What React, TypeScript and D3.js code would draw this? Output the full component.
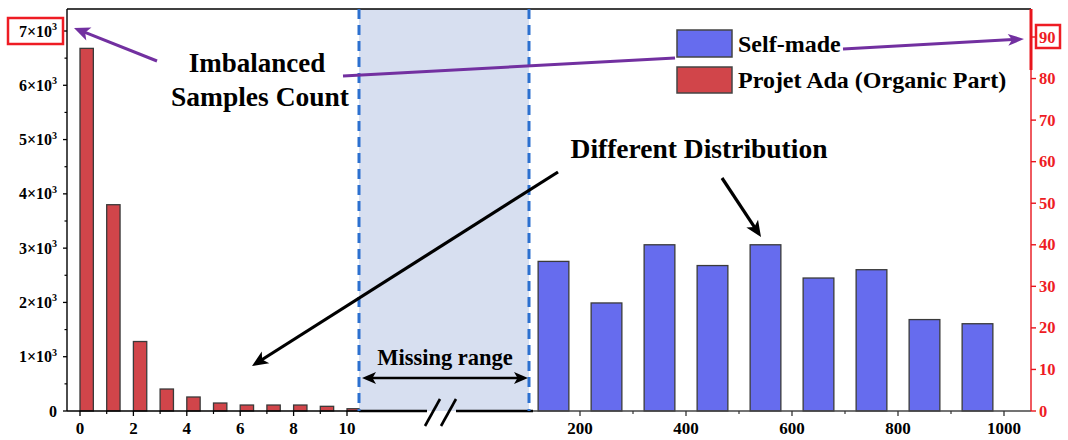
import React from "react";
import * as d3 from "d3";

// ---- data ----
const adaBins = [0, 1, 2, 3, 4, 5, 6, 7, 8, 9, 10];
const adaCounts = [6680, 3800, 1280, 405, 258, 147, 110, 110, 110, 86, 42];
const selfBins = [150, 250, 350, 450, 550, 650, 750, 850, 950];
const selfCounts = [36, 26, 40, 35, 40, 32, 34, 22, 21];
const leftYTicks = [0, 1000, 2000, 3000, 4000, 5000, 6000, 7000];
const leftYMinor = [500, 1500, 2500, 3500, 4500, 5500, 6500];
const leftXTicks = [0, 2, 4, 6, 8, 10];
const leftXMinor = [1, 3, 5, 7, 9];
const rightXTicks = [200, 400, 600, 800, 1000];
const rightXMinor = [300, 500, 700, 900];
const rightYTicks = [0, 10, 20, 30, 40, 50, 60, 70, 80, 90];
const legendLabels = ["Self-made", "Projet Ada (Organic Part)"];

const W = 1068, H = 440;
const TOP = 9, BOTTOM = 411, LEFT = 67, RIGHT = 1031;
const GAP_L = 359, GAP_R = 529;
const FONT = "'Liberation Serif', 'Times New Roman', serif";
const RED = "#d1454a", BLUE = "#666cee", PURPLE = "#7230a0";

const xL = d3.scaleLinear().domain([0, 10]).range([80, 347]);
const xR = d3.scaleLinear().domain([200, 1000]).range([580, 1004]);
const yL = d3.scaleLinear().domain([0, 7000]).range([BOTTOM, 31]);
const yR = d3.scaleLinear().domain([0, 90]).range([BOTTOM, 37]);

function Arrow({ x1, y1, x2, y2, color, w = 3, head = 14, hw = 6 }: any) {
  const a = Math.atan2(y2 - y1, x2 - x1);
  const bx = x2 - head * Math.cos(a), by = y2 - head * Math.sin(a);
  const px = -Math.sin(a) * hw, py = Math.cos(a) * hw;
  return (
    <g>
      <line x1={x1} y1={y1} x2={bx + head * 0.3 * Math.cos(a)} y2={by + head * 0.3 * Math.sin(a)} stroke={color} strokeWidth={w} />
      <path d={`M${x2},${y2}L${bx + px},${by + py}L${bx + (x2 - bx) * 0.25},${by + (y2 - by) * 0.25}L${bx - px},${by - py}Z`} fill={color} />
    </g>
  );
}

export default function App() {
  const wL = xL(0.5) - xL(0);
  const wR = xR(58) - xR(0);
  return (
    <svg width={W} height={H} style={{ position: "absolute", left: 0, top: 0, background: "#fff" }} fontFamily={FONT} fontWeight="bold">
      {/* shaded missing range */}
      <rect x={GAP_L} y={TOP} width={GAP_R - GAP_L} height={BOTTOM - TOP} fill="#d7dff0" />

      {/* left bars */}
      {adaBins.map((b, i) => (
        <rect key={"a" + i} x={xL(b)} y={yL(adaCounts[i])} width={Math.min(wL, GAP_L - xL(b))} height={BOTTOM - yL(adaCounts[i])}
          fill={RED} stroke="#3a3a3a" strokeWidth={1.3} />
      ))}
      {/* right bars */}
      {selfBins.map((b, i) => (
        <rect key={"s" + i} x={xR(b) - wR / 2} y={yR(selfCounts[i])} width={wR} height={BOTTOM - yR(selfCounts[i])}
          fill={BLUE} stroke="#3a3a3a" strokeWidth={1.3} />
      ))}

      {/* frame */}
      <line x1={LEFT} y1={TOP} x2={RIGHT} y2={TOP} stroke="#000" strokeWidth={1.6} />
      <line x1={LEFT} y1={TOP} x2={LEFT} y2={BOTTOM} stroke="#000" strokeWidth={1.4} />
      <line x1={LEFT} y1={BOTTOM} x2={GAP_L} y2={BOTTOM} stroke="#000" strokeWidth={1.4} />
      <line x1={GAP_L} y1={BOTTOM} x2={427} y2={BOTTOM} stroke="#000" strokeWidth={2.4} />
      <line x1={456} y1={BOTTOM} x2={533} y2={BOTTOM} stroke="#000" strokeWidth={2.4} />
      <line x1={533} y1={BOTTOM} x2={RIGHT} y2={BOTTOM} stroke="#444" strokeWidth={1.4} />
      <line x1={425} y1={426} x2={440} y2={399} stroke="#000" strokeWidth={2.6} />
      <line x1={441} y1={426} x2={456} y2={399} stroke="#000" strokeWidth={2.6} />

      {/* dashed boundaries */}
      <line x1={GAP_L} y1={TOP} x2={GAP_L} y2={BOTTOM} stroke="#2c70cf" strokeWidth={3} strokeDasharray="10 6" />
      <line x1={GAP_R} y1={TOP} x2={GAP_R} y2={BOTTOM} stroke="#2c70cf" strokeWidth={3} strokeDasharray="10 6" />

      {/* left y axis */}
      {leftYTicks.map((t) => (
        <g key={"ly" + t}>
          <line x1={LEFT - 4} x2={LEFT} y1={yL(t)} y2={yL(t)} stroke="#000" strokeWidth={1.3} />
          <text x={57} y={yL(t) + 5.5} textAnchor="end" fontSize={16}>
            {t === 0 ? "0" : <>{`${t / 1000}×10`}<tspan fontSize={10} dy={-6.5}>3</tspan></>}
          </text>
        </g>
      ))}
      {leftYMinor.map((t) => (
        <line key={"lym" + t} x1={LEFT - 2.5} x2={LEFT} y1={yL(t)} y2={yL(t)} stroke="#000" strokeWidth={1.2} />
      ))}
      {/* left x axis */}
      {leftXTicks.map((t) => (
        <g key={"lx" + t}>
          <line x1={xL(t)} x2={xL(t)} y1={BOTTOM} y2={BOTTOM + 5} stroke="#000" strokeWidth={1.3} />
          <text x={xL(t)} y={434} textAnchor="middle" fontSize={17}>{t}</text>
        </g>
      ))}
      {leftXMinor.map((t) => (
        <line key={"lxm" + t} x1={xL(t)} x2={xL(t)} y1={BOTTOM} y2={BOTTOM + 3} stroke="#000" strokeWidth={1.2} />
      ))}
      {/* right x axis */}
      {rightXTicks.map((t) => (
        <g key={"rx" + t}>
          <line x1={xR(t)} x2={xR(t)} y1={BOTTOM} y2={BOTTOM + 5} stroke="#333" strokeWidth={1.3} />
          <text x={xR(t)} y={434} textAnchor="middle" fontSize={17}>{t}</text>
        </g>
      ))}
      {rightXMinor.map((t) => (
        <line key={"rxm" + t} x1={xR(t)} x2={xR(t)} y1={BOTTOM} y2={BOTTOM + 3} stroke="#333" strokeWidth={1.2} />
      ))}
      {/* right y axis */}
      <line x1={RIGHT} y1={TOP} x2={RIGHT} y2={BOTTOM} stroke="#e8141c" strokeWidth={1.4} />
      <line x1={RIGHT} y1={TOP} x2={RIGHT} y2={70} stroke="#e8141c" strokeWidth={3} />
      {rightYTicks.map((t) => (
        <g key={"ry" + t}>
          <line x1={RIGHT} x2={RIGHT + 5} y1={yR(t)} y2={yR(t)} stroke="#e8141c" strokeWidth={1.4} />
          <text x={1039} y={yR(t) + 5.5} fontSize={16.5} fill="#ee1c24">{t}</text>
        </g>
      ))}

      {/* red highlight boxes */}
      <rect x={8} y={18} width={55} height={26} fill="none" stroke="#ee1c24" strokeWidth={2.5} />
      <rect x={1036} y={25} width={24} height={23} fill="none" stroke="#ee1c24" strokeWidth={2.5} />

      {/* legend */}
      <rect x={677} y={30} width={55} height={27} fill={BLUE} stroke="#444" strokeWidth={1.5} />
      <rect x={677} y={67} width={55} height={26} fill={RED} stroke="#444" strokeWidth={1.5} />
      <text x={738} y={52} fontSize={24}>{legendLabels[0]}</text>
      <text x={738} y={88} fontSize={24}>{legendLabels[1]}</text>

      {/* annotations */}
      <text x={257} y={72} textAnchor="middle" fontSize={27}>Imbalanced</text>
      <text x={260} y={106} textAnchor="middle" fontSize={27.5}>Samples Count</text>
      <text x={699} y={158} textAnchor="middle" fontSize={27.5}>Different Distribution</text>
      <text x={445} y={365} textAnchor="middle" fontSize={22.5}>Missing range</text>

      <Arrow x1={157} y1={61} x2={74} y2={28} color={PURPLE} w={3} head={16} hw={7} />
      <line x1={343} y1={76} x2={675} y2={58} stroke={PURPLE} strokeWidth={3} />
      <Arrow x1={843} y1={49} x2={1024} y2={39} color={PURPLE} w={3} head={16} hw={6} />
      <Arrow x1={558} y1={172} x2={252} y2={366} color="#000" w={3.2} head={16} hw={7} />
      <Arrow x1={722} y1={178} x2={761} y2={237} color="#000" w={3.2} head={16} hw={7} />
      {/* double arrow */}
      <Arrow x1={445} y1={378} x2={362} y2={378} color="#000" w={2.6} head={14} hw={6} />
      <Arrow x1={445} y1={378} x2={528} y2={378} color="#000" w={2.6} head={14} hw={6} />
    </svg>
  );
}
